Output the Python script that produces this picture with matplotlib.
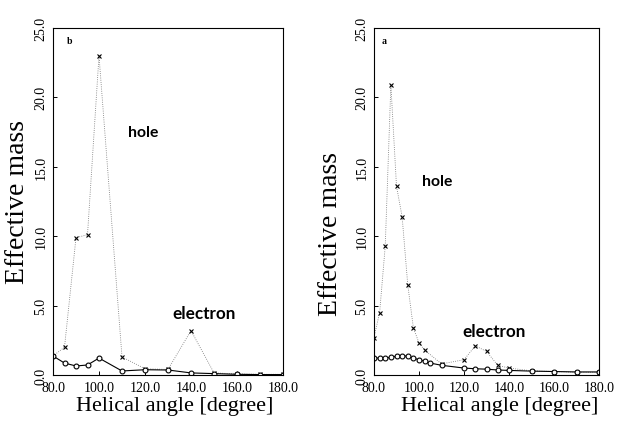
import matplotlib.pyplot as plt

# panel b (left)
b_angle = [80, 85, 90, 95, 100, 110, 120, 130, 140, 150, 160, 170, 180]
b_hole = [1.37, 2.0, 9.9, 10.1, 23.0, 1.3, 0.45, 0.4, 3.2, 0.15, 0.08, 0.05, 0.05]
b_elec = [1.37, 0.86, 0.65, 0.72, 1.22, 0.29, 0.38, 0.36, 0.15, 0.1, 0.05, 0.03, 0.03]

# panel a (right)
a_angle_h = [80, 82.5, 85, 87.5, 90, 92.5, 95, 97.5, 100, 102.5, 110, 120, 125, 130, 135, 140, 150, 160, 170, 180]
a_hole = [2.7, 4.5, 9.3, 20.9, 13.6, 11.4, 6.5, 3.4, 2.3, 1.8, 0.8, 1.1, 2.1, 1.7, 0.7, 0.5, 0.3, 0.25, 0.2, 0.2]
a_angle_e = [80, 82.5, 85, 87.5, 90, 92.5, 95, 97.5, 100, 102.5, 105, 110, 120, 125, 130, 135, 140, 150, 160, 170, 180]
a_elec = [1.22, 1.22, 1.22, 1.27, 1.35, 1.39, 1.35, 1.22, 1.1, 0.99, 0.86, 0.7, 0.5, 0.45, 0.42, 0.36, 0.33, 0.28, 0.25, 0.22, 0.22]

xticks = [80, 100, 120, 140, 160, 180]
yticks = [0, 5, 10, 15, 20, 25]

serif = 'Liberation Serif'
fig = plt.figure(figsize=(6.24, 4.27), dpi=100)
W, H = 624, 427
ax_b = fig.add_axes([53 / W, (H - 376) / H, 230 / W, 347 / H])
ax_a = fig.add_axes([374 / W, (H - 376) / H, 225 / W, 347 / H])


def style(ax, letter, lx, ylx, yly, xlx):
    ax.set_xlim(80, 180)
    ax.set_ylim(0, 25)
    ax.set_xticks(xticks)
    ax.set_xticklabels(['%.1f' % t for t in xticks], fontfamily=serif, fontsize=10)
    ax.set_yticks(yticks)
    ax.set_yticklabels(['%.1f' % t for t in yticks], fontfamily=serif, fontsize=10,
                       rotation=90, va='center')
    ax.tick_params(direction='in', length=3, width=0.7, pad=4)
    for s in ax.spines.values():
        s.set_linewidth(0.8)
    ax.set_xlabel('Helical angle [degree]', fontfamily=serif, fontsize=16)
    ax.set_ylabel('Effective mass', fontfamily=serif, fontsize=20)
    ax.yaxis.set_label_coords(ylx, yly)
    ax.xaxis.set_label_coords(xlx, -0.06)
    ax.text(lx, 0.977, letter, transform=ax.transAxes, fontsize=7,
            fontfamily=serif, fontweight='bold', va='top')


ax_b.plot(b_angle, b_hole, ls=':', lw=0.6, color='0.45', marker='x', ms=3.5,
          mew=0.8, mec='black')
ax_b.plot(b_angle, b_elec, ls='-', lw=0.8, color='black', marker='o', ms=3.5,
          mfc='white', mec='black', mew=0.8)
style(ax_b, 'b', 0.06, -0.10, 0.5, 0.53)
ax_b.text(119.3, 17.5, 'hole', fontfamily='Lato', fontweight='bold', fontsize=11.3,
          ha='center', va='center')
ax_b.text(145.6, 4.5, 'electron', fontfamily='Lato', fontweight='bold', fontsize=12.3,
          ha='center', va='center')

ax_a.plot(a_angle_h, a_hole, ls=':', lw=0.6, color='0.45', marker='x', ms=3.5,
          mew=0.8, mec='black')
ax_a.plot(a_angle_e, a_elec, ls='-', lw=0.8, color='black', marker='o', ms=3.5,
          mfc='white', mec='black', mew=0.8)
style(ax_a, 'a', 0.035, -0.138, 0.41, 0.56)
ax_a.text(108, 14.0, 'hole', fontfamily='Lato', fontweight='bold', fontsize=11.3,
          ha='center', va='center')
ax_a.text(133.5, 3.2, 'electron', fontfamily='Lato', fontweight='bold', fontsize=12.3,
          ha='center', va='center')

fig.savefig('out.png', dpi=100)
